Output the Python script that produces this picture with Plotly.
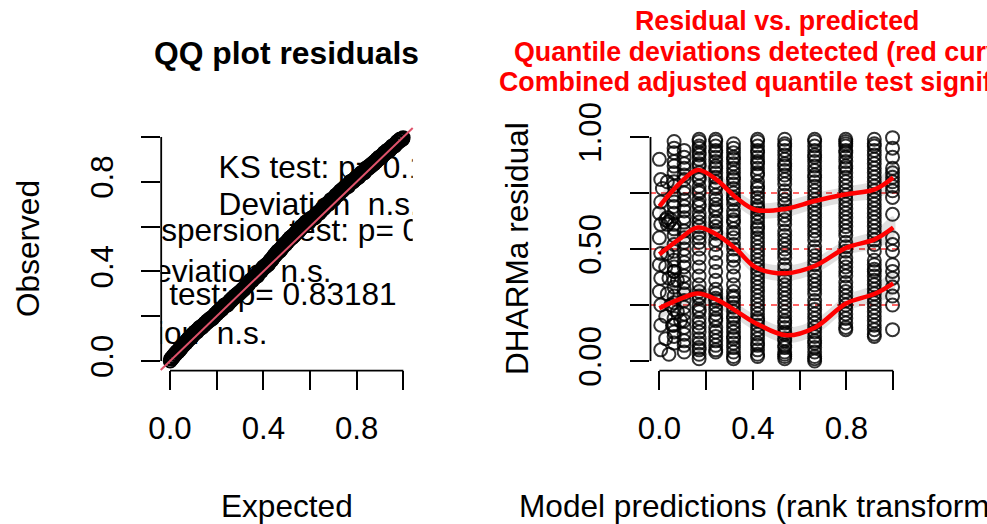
import numpy as np
import plotly.graph_objects as go

W, H = 987, 524
FONT = "Liberation Sans, Arial, Helvetica, sans-serif"

# ---- residual data: rank-transformed model prediction -> scaled (DHARMa) residuals ----
# scattered low-prediction observations (distinct predicted values)
edge_x = [0.0, 0.006, 0.034, 0.013, 0.006, 0.0, 0.027, 0.049, 0.034, 0.006, 0.041, 0.034,
          0.0, 0.006, 0.034, 0.0, 0.027, 0.063, 0.006, 0.041, 0.077, 0.0, 0.034, 0.006,
          0.049, 0.027, 0.077, 0.006, 0.056, 0.091, 0.027, 0.063, 0.006, 0.041]
edge_res = [0.90, 0.81, 0.80, 0.77, 0.71, 0.66, 0.63, 0.63, 0.61, 0.61, 0.62, 0.64,
            0.55, 0.48, 0.48, 0.43, 0.42, 0.40, 0.37, 0.37, 0.36, 0.31, 0.30, 0.25,
            0.25, 0.20, 0.22, 0.16, 0.16, 0.18, 0.10, 0.08, 0.05, 0.03]

# tied predictions: one column of residuals per rank position
col_x = [0.063, 0.106, 0.17, 0.241, 0.317, 0.42, 0.536, 0.664, 0.797, 0.919, 0.997]
col_res = [
    [0.98, 0.95, 0.93, 0.89, 0.87, 0.84, 0.80, 0.78, 0.74, 0.71, 0.69, 0.66, 0.61, 0.59, 0.56,
     0.52, 0.49, 0.45, 0.42, 0.40, 0.36, 0.33, 0.29, 0.26, 0.23, 0.19, 0.16, 0.13, 0.11],
    [0.94, 0.91, 0.88, 0.86, 0.83, 0.81, 0.77, 0.75, 0.72, 0.69, 0.67, 0.64, 0.62, 0.58, 0.55,
     0.53, 0.50, 0.47, 0.44, 0.42, 0.38, 0.35, 0.32, 0.30, 0.27, 0.24, 0.21, 0.18, 0.15, 0.12,
     0.09, 0.07, 0.04],
    [0.99, 0.98, 0.96, 0.95, 0.93, 0.92, 0.90, 0.88, 0.87, 0.84, 0.82, 0.81, 0.78, 0.76, 0.75,
     0.72, 0.70, 0.69, 0.66, 0.64, 0.62, 0.60, 0.57, 0.55, 0.53, 0.50, 0.46, 0.42, 0.38, 0.34,
     0.31, 0.29, 0.28, 0.25, 0.23, 0.22, 0.19, 0.17, 0.15, 0.13, 0.10, 0.08, 0.06, 0.05, 0.03,
     0.01],
    [0.99, 0.98, 0.96, 0.94, 0.93, 0.91, 0.89, 0.87, 0.86, 0.84, 0.82, 0.80, 0.78, 0.77, 0.74,
     0.72, 0.70, 0.68, 0.67, 0.64, 0.62, 0.60, 0.58, 0.57, 0.54, 0.52, 0.48, 0.44, 0.40, 0.36,
     0.32, 0.30, 0.28, 0.27, 0.25, 0.23, 0.21, 0.19, 0.18, 0.15, 0.13, 0.11, 0.09, 0.07, 0.05,
     0.04],
    [0.97, 0.95, 0.93, 0.91, 0.90, 0.88, 0.86, 0.84, 0.82, 0.81, 0.79, 0.77, 0.75, 0.73, 0.72,
     0.70, 0.67, 0.65, 0.63, 0.62, 0.59, 0.57, 0.55, 0.52, 0.50, 0.47, 0.45, 0.42, 0.38, 0.34,
     0.31, 0.29, 0.28, 0.26, 0.24, 0.22, 0.20, 0.19, 0.17, 0.15, 0.13, 0.11, 0.10, 0.08, 0.06,
     0.04, 0.02, 0.01],
    [0.99, 0.98, 0.96, 0.94, 0.93, 0.91, 0.89, 0.88, 0.86, 0.84, 0.83, 0.80, 0.78, 0.77, 0.75,
     0.73, 0.71, 0.69, 0.68, 0.66, 0.64, 0.62, 0.60, 0.59, 0.57, 0.55, 0.53, 0.51, 0.49, 0.47,
     0.45, 0.43, 0.41, 0.39, 0.37, 0.35, 0.33, 0.31, 0.29, 0.27, 0.25, 0.23, 0.21, 0.19, 0.18,
     0.16, 0.14, 0.12, 0.10, 0.08, 0.07, 0.05, 0.03, 0.02],
    [0.99, 0.97, 0.96, 0.94, 0.92, 0.90, 0.88, 0.87, 0.85, 0.83, 0.81, 0.79, 0.76, 0.74, 0.72,
     0.70, 0.67, 0.65, 0.63, 0.61, 0.58, 0.56, 0.54, 0.52, 0.50, 0.48, 0.46, 0.43, 0.41, 0.38,
     0.36, 0.34, 0.32, 0.30, 0.28, 0.26, 0.24, 0.22, 0.20, 0.18, 0.17, 0.15, 0.13, 0.12, 0.10,
     0.09, 0.07, 0.06, 0.04, 0.03, 0.02, 0.01],
    [0.99, 0.98, 0.96, 0.94, 0.92, 0.91, 0.89, 0.87, 0.85, 0.83, 0.82, 0.80, 0.78, 0.76, 0.74,
     0.72, 0.70, 0.68, 0.66, 0.64, 0.62, 0.60, 0.58, 0.56, 0.54, 0.51, 0.49, 0.47, 0.45, 0.43,
     0.40, 0.38, 0.36, 0.34, 0.32, 0.30, 0.27, 0.25, 0.23, 0.21, 0.19, 0.17, 0.15, 0.13, 0.11,
     0.09, 0.08, 0.06, 0.04, 0.02, 0.01, 0.00],
    [0.99, 0.98, 0.97, 0.96, 0.94, 0.93, 0.91, 0.89, 0.87, 0.86, 0.84, 0.82, 0.80, 0.78, 0.76,
     0.74, 0.72, 0.70, 0.68, 0.66, 0.64, 0.62, 0.60, 0.58, 0.56, 0.53, 0.51, 0.49, 0.46, 0.44,
     0.42, 0.40, 0.38, 0.35, 0.33, 0.31, 0.29, 0.27, 0.25, 0.23, 0.21, 0.19, 0.17, 0.15, 0.14],
    [0.99, 0.97, 0.96, 0.94, 0.92, 0.90, 0.88, 0.86, 0.84, 0.82, 0.80, 0.78, 0.76, 0.74, 0.72,
     0.70, 0.68, 0.66, 0.64, 0.62, 0.60, 0.58, 0.56, 0.54, 0.52, 0.49, 0.45, 0.43, 0.41, 0.40,
     0.38, 0.36, 0.34, 0.32, 0.30, 0.28, 0.26, 0.24, 0.22, 0.20, 0.18, 0.16, 0.14, 0.12, 0.11],
    [0.997, 0.95, 0.91, 0.86, 0.84, 0.82, 0.80, 0.78, 0.76, 0.73, 0.655, 0.55, 0.52, 0.49, 0.43,
     0.40, 0.37, 0.33, 0.29, 0.25, 0.14],
]

# ---- quantile regression fits (0.25 / 0.5 / 0.75) with their confidence half-widths ----
q_x = [0.0, 0.084, 0.164, 0.243, 0.329, 0.414, 0.543, 0.664, 0.80, 0.921, 1.0]
q25 = [0.236, 0.275, 0.301, 0.275, 0.223, 0.168, 0.115, 0.149, 0.258, 0.300, 0.347]
q50 = [0.476, 0.543, 0.596, 0.566, 0.499, 0.417, 0.392, 0.424, 0.506, 0.543, 0.596]
q75 = [0.690, 0.790, 0.853, 0.811, 0.729, 0.674, 0.680, 0.714, 0.744, 0.766, 0.819]
q_ci = [0.05, 0.04, 0.035, 0.035, 0.035, 0.035, 0.035, 0.035, 0.035, 0.04, 0.05]
quantiles = [0.25, 0.5, 0.75]

# ---- test results ----
ks_text = ["KS test: p= 0.10712", "Deviation  n.s."]
disp_text = ["Dispersion test: p= 0.984", "Deviation  n.s."]
outl_text = ["Outlier test: p= 0.83181", "Deviation  n.s."]

# ---- axis ticks ----
qq_ticks = [0.0, 0.2, 0.4, 0.6, 0.8, 1.0]
qq_labels = ["0.0", "", "0.4", "", "0.8", ""]
res_yticks = [0.0, 0.25, 0.5, 0.75, 1.0]
res_ylabels = ["0.00", "", "0.50", "", "1.00"]

# ----------------------------------------------------------------------------
all_x = list(edge_x)
all_res = list(edge_res)
for cx, vals in zip(col_x, col_res):
    all_x += [cx] * len(vals)
    all_res += vals

observed = np.sort(np.array(all_res))
n = len(observed)
expected = (np.arange(1, n + 1) - 0.5) / n


def fx(px):
    return px / W


def fy(py):
    return 1 - py / H


LEFT_DOM = [fx(160.7), fx(412.7)]
RIGHT_DOM = [fx(650.0), fx(902.6)]
Y_DOM = [fy(370.0), fy(128.0)]
RNG = [-0.04, 1.04]

fig = go.Figure()

# QQ plot points
fig.add_trace(go.Scatter(
    x=expected, y=observed, mode="markers", xaxis="x", yaxis="y",
    marker=dict(symbol="circle-open", size=13, color="black", line=dict(width=2, color="black")),
    hoverinfo="skip", showlegend=False,
))

# test result text (clipped to the plot region)
txt_font = dict(family=FONT, size=31.6, color="black")
for label, x0, ys in [
    (ks_text, 0.208, [0.853, 0.686]),
    (disp_text, -0.166, [0.570, 0.389]),
    (outl_text, -0.44, [0.287, 0.113]),
]:
    fig.add_trace(go.Scatter(
        x=[x0, x0], y=ys, text=label, mode="text", textposition="middle right",
        textfont=txt_font, cliponaxis=True, xaxis="x", yaxis="y",
        hoverinfo="skip", showlegend=False,
    ))

# residual vs. predicted points
fig.add_trace(go.Scatter(
    x=all_x, y=all_res, mode="markers", xaxis="x2", yaxis="y2",
    marker=dict(symbol="circle-open", size=13, color="rgba(0,0,0,0.8)",
                line=dict(width=2, color="rgba(0,0,0,0.8)")),
    hoverinfo="skip", showlegend=False,
))

# quantile fits with confidence bands
for q in [q25, q50, q75]:
    lo = [v - c for v, c in zip(q, q_ci)]
    hi = [v + c for v, c in zip(q, q_ci)]
    fig.add_trace(go.Scatter(
        x=q_x + q_x[::-1], y=hi + lo[::-1], mode="lines", fill="toself",
        fillcolor="rgba(0,0,0,0.12)", line=dict(width=0, shape="spline"),
        xaxis="x2", yaxis="y2", hoverinfo="skip", showlegend=False,
    ))
    fig.add_trace(go.Scatter(
        x=q_x, y=q, mode="lines", line=dict(color="#FF0000", width=4.5, shape="spline", smoothing=1.0),
        xaxis="x2", yaxis="y2", hoverinfo="skip", showlegend=False,
    ))

shapes = []
# 1:1 reference line of the QQ plot
shapes.append(dict(type="line", xref="x domain", yref="y domain", x0=0, y0=0, x1=1, y1=1,
                   line=dict(color="#DF536B", width=2), layer="above"))
# expected quantile levels
for q in quantiles:
    shapes.append(dict(type="line", xref="x2 domain", yref="y2", x0=0, x1=1, y0=q, y1=q,
                       line=dict(color="rgba(255,0,0,0.8)", width=1.3, dash="6px,5px"),
                       layer="below"))
# axis lines spanning the tick range
AX_W = 1.8
for xr, yr, px in [("x", "y", 161.2), ("x2", "y2", 650.5)]:
    shapes.append(dict(type="line", xref="paper", yref=yr, x0=fx(px), x1=fx(px),
                       y0=(qq_ticks if yr == "y" else res_yticks)[0],
                       y1=(qq_ticks if yr == "y" else res_yticks)[-1],
                       line=dict(color="black", width=AX_W)))
    shapes.append(dict(type="line", xref=xr, yref="paper", x0=qq_ticks[0], x1=qq_ticks[-1],
                       y0=fy(370.6), y1=fy(370.6), line=dict(color="black", width=AX_W)))

tick_font = dict(family=FONT, size=31.2, color="black")
axis_common = dict(range=RNG, showgrid=False, zeroline=False, showline=False,
                   ticks="outside", ticklen=19, tickwidth=AX_W, tickcolor="black",
                   tickfont=tick_font, fixedrange=True, automargin=False)

fig.update_layout(
    width=W, height=H, margin=dict(l=0, r=0, t=0, b=0, pad=0, autoexpand=False),
    paper_bgcolor="white", plot_bgcolor="white", showlegend=False,
    xaxis=dict(domain=LEFT_DOM, anchor="y", tickvals=qq_ticks, ticktext=qq_labels,
               ticklabelstandoff=12, **axis_common),
    yaxis=dict(domain=Y_DOM, anchor="x", tickvals=qq_ticks, ticktext=qq_labels,
               tickangle=-90, ticklabelstandoff=15, **axis_common),
    xaxis2=dict(domain=RIGHT_DOM, anchor="y2", tickvals=qq_ticks, ticktext=qq_labels,
                ticklabelstandoff=12, **axis_common),
    yaxis2=dict(domain=Y_DOM, anchor="x2", tickvals=res_yticks, ticktext=res_ylabels,
                tickangle=-90, ticklabelstandoff=17, **axis_common),
    shapes=shapes,
)

ann = []
title_font = dict(family=FONT, size=31.8, color="black")
lab_font = dict(family=FONT, size=31.6, color="black")
red_font = dict(family=FONT, size=26.8, color="#FF0000")
ann.append(dict(text="<b>QQ plot residuals</b>", x=fx(286.7), y=fy(53), font=title_font))
ann.append(dict(text="<b>Residual vs. predicted</b>", x=fx(776.5), y=fy(21), font=red_font))
ann.append(dict(text="<b>Quantile deviations detected (red curves)</b>", x=fx(776.5), y=fy(52),
                font=red_font))
ann.append(dict(text="<b>Combined adjusted quantile test significant</b>", x=fx(776.5), y=fy(82),
                font=red_font))
ann.append(dict(text="Expected", x=fx(286.7), y=fy(506), font=lab_font))
ann.append(dict(text="Model predictions (rank transformed)", x=fx(776.5), y=fy(506),
                font=lab_font))
ann.append(dict(text="Observed", x=fx(28), y=fy(249), font=lab_font, textangle=-90))
ann.append(dict(text="DHARMa residual", x=fx(517), y=fy(249), font=lab_font, textangle=-90))
for a in ann:
    a.update(xref="paper", yref="paper", showarrow=False, xanchor="center", yanchor="middle")
fig.update_layout(annotations=ann)

fig.write_html("out.html")
